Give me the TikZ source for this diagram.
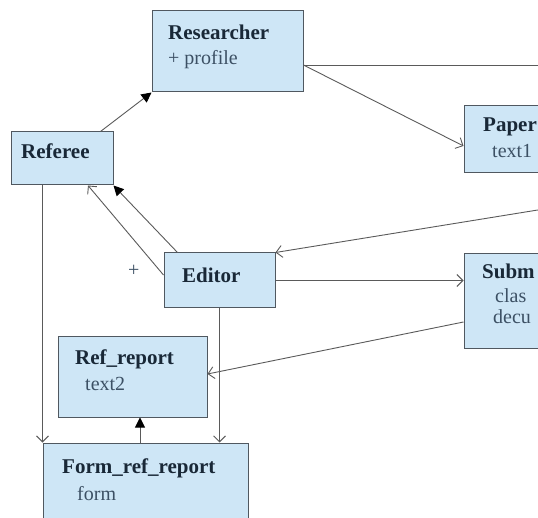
\documentclass[tikz,border=0pt]{standalone}
\usepackage{fontspec}
\setmainfont{Liberation Serif}
\usetikzlibrary{arrows.meta,calc}
\definecolor{boxfill}{RGB}{206,230,246}
\definecolor{boxline}{RGB}{80,88,96}
\definecolor{wire}{RGB}{90,90,90}
\definecolor{titleink}{RGB}{25,40,55}
\definecolor{attrink}{RGB}{60,80,100}
\tikzset{
  classbox/.style={draw=boxline, fill=boxfill, line width=1pt, rectangle, inner sep=0pt},
  title/.style={anchor=base west, inner sep=0pt, text=titleink, font=\fontsize{21}{24}\selectfont\bfseries},
  attr/.style={anchor=base west, inner sep=0pt, text=attrink, font=\fontsize{20}{24}\selectfont},
  wireline/.style={draw=wire, line width=0.9pt},
  nav/.style={wireline, -{Triangle[length=10pt,width=10pt,color=black]}},
  dep/.style={wireline, -{Straight Barb[length=6pt,width=12pt]}},
}
\begin{document}
\begin{tikzpicture}[x=1pt,y=-1pt]
\useasboundingbox (0,0) rectangle (538,518);
\clip (0,0) rectangle (538,518);

% class boxes
\node[classbox, minimum width=151pt, minimum height=81pt] (res) at (227.5,51.5) {};
\node[classbox, minimum width=102pt, minimum height=53pt] (ref) at (62,158.5) {};
\node[classbox, minimum width=120pt, minimum height=67pt] (pap) at (524,139.5) {};
\node[classbox, minimum width=111pt, minimum height=55pt] (edi) at (219.5,280.5) {};
\node[classbox, minimum width=149pt, minimum height=80pt] (rr)  at (132.5,377) {};
\node[classbox, minimum width=205pt, minimum height=97pt] (frr) at (145.5,491.5) {};
\node[classbox, minimum width=120pt, minimum height=95pt] (sub) at (524,301.5) {};

% labels
\node[title] (resT) at (168,40) {Researcher};
\node[attr]  (resA) at (168,65) {+ profile};
\node[title] (refT) at (21,159) {Referee};
\node[title] (papT) at (483,132) {Paper};
\node[attr]  (papA) at (492,158) {text1};
\node[title] (ediT) at (182,283) {Editor};
\node[title] (rrT)  at (75,365) {Ref\_report};
\node[attr]  (rrA)  at (85,390) {text2};
\node[title] (frrT) at (62,473) {Form\_ref\_report};
\node[attr]  (frrA) at (77,500) {form};
\node[title] (subT) at (482,279) {Subm};
\node[attr]  (subA) at (495,303) {clas};
\node[attr]  (subB) at (493,324) {decu};
\node[attr]  (plus) at (128,277) {+};

% far ends of connectors leaving the frame
\coordinate (resOut) at (560,65);
\coordinate (ediIn) at (560,206.4);

% connectors
\draw[nav] ($(ref.north east)+(-13,0)$) -- (res.south west);
\draw[wireline] ([yshift=-13.5pt]res.east) -- (resOut);
\draw[dep] ([yshift=-13.5pt]res.east) -- ([yshift=-6.5pt]pap.west);
\draw[dep] (ediIn) -- (edi.north east);
\draw[dep] (edi.east) -- (edi.east -| sub.west);
\draw[dep] ([yshift=-20.5pt]sub.west) -- ([yshift=3pt]rr.east);
\draw[dep] (edi.south) -- (edi.south |- frr.north);
\draw[dep] (ref.south -| frr.north west) -- (frr.north west);
\draw[nav] ([xshift=7.5pt]rr.south |- frr.north) -- ([xshift=7.5pt]rr.south);
\draw[nav] ([xshift=14pt]edi.north west) -- (ref.south east);
\draw[dep] ([yshift=5.5pt]edi.west) -- ([xshift=26pt]ref.south);
\end{tikzpicture}
\end{document}
